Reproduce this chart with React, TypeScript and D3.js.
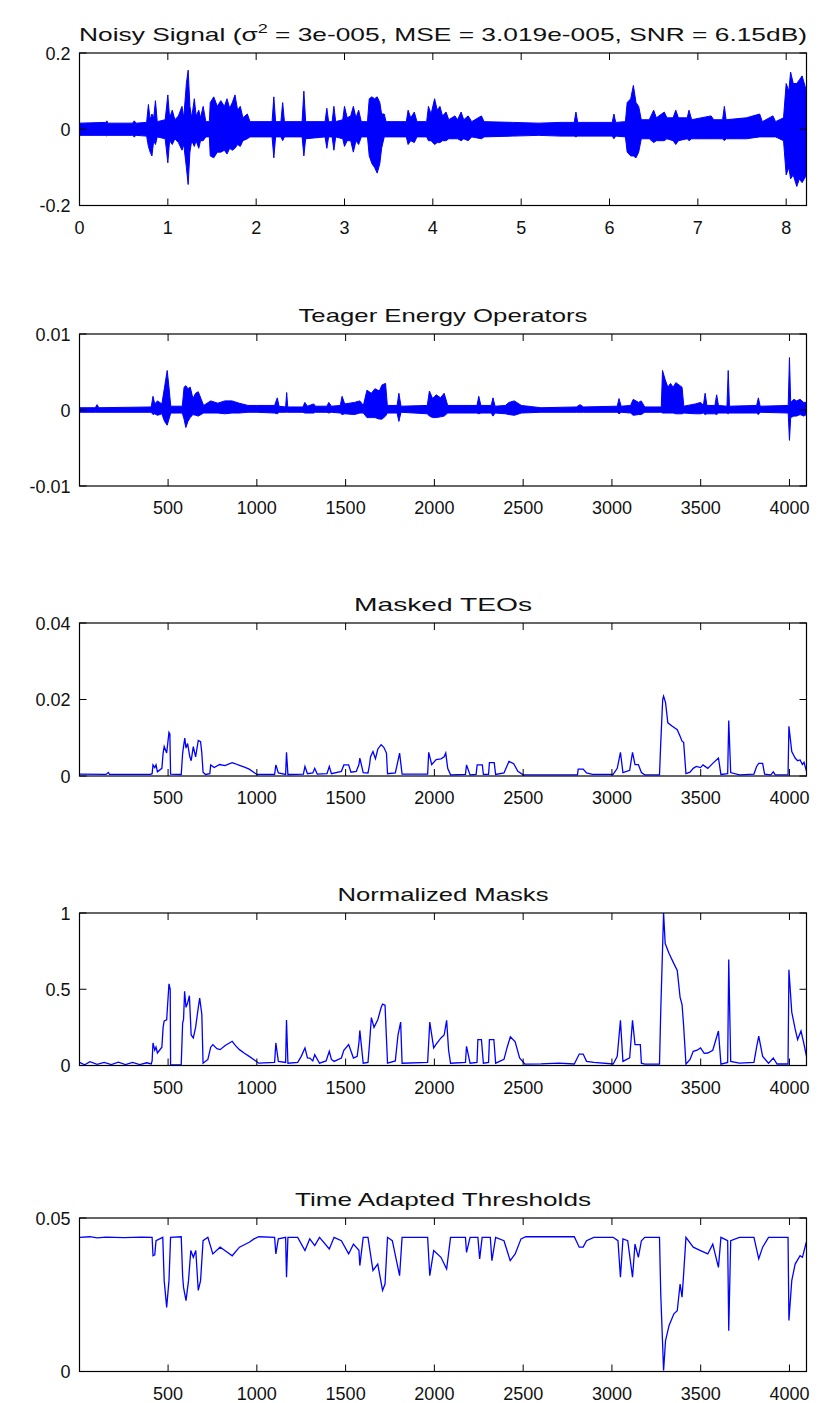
import React from "react";
import * as d3 from "d3";

// ---- noisy signal: envelope (time in s) ----
const sigT = [0, 0.3, 0.31, 0.32, 0.6, 0.62, 0.64, 0.76, 0.78, 0.8, 0.82, 0.84, 0.86, 0.88, 0.97, 1.0, 1.02, 1.05, 1.08, 1.12, 1.16, 1.18, 1.21, 1.23, 1.25, 1.27, 1.3, 1.32, 1.35, 1.37, 1.4, 1.43, 1.47, 1.48, 1.52, 1.56, 1.6, 1.64, 1.67, 1.7, 1.73, 1.76, 1.79, 1.82, 1.85, 1.9, 1.93, 2.18, 2.2, 2.22, 2.28, 2.3, 2.32, 2.52, 2.54, 2.56, 2.78, 2.8, 2.82, 2.86, 2.88, 2.9, 2.98, 3.0, 3.03, 3.07, 3.1, 3.13, 3.16, 3.19, 3.26, 3.28, 3.31, 3.34, 3.37, 3.4, 3.42, 3.45, 3.47, 3.7, 3.72, 3.75, 3.79, 3.82, 3.93, 3.95, 3.98, 4.02, 4.05, 4.08, 4.11, 4.15, 4.18, 4.25, 4.28, 4.32, 4.35, 4.4, 4.44, 4.55, 4.58, 4.9, 5.2, 5.45, 5.6, 5.62, 5.64, 6.03, 6.05, 6.07, 6.18, 6.2, 6.24, 6.27, 6.3, 6.33, 6.36, 6.45, 6.5, 6.53, 6.62, 6.65, 6.72, 6.75, 6.78, 6.88, 6.9, 6.93, 7.15, 7.18, 7.28, 7.3, 7.32, 7.55, 7.7, 7.73, 7.85, 7.88, 7.97, 8.0, 8.03, 8.05, 8.08, 8.12, 8.15, 8.18, 8.23];
const sigHi = [0.016, 0.018, 0.022, 0.016, 0.016, 0.022, 0.016, 0.018, 0.065, 0.025, 0.04, 0.03, 0.075, 0.02, 0.025, 0.09, 0.03, 0.05, 0.025, 0.035, 0.06, 0.03, 0.12, 0.155, 0.06, 0.03, 0.08, 0.035, 0.05, 0.03, 0.06, 0.02, 0.02, 0.07, 0.085, 0.06, 0.075, 0.06, 0.08, 0.055, 0.07, 0.09, 0.05, 0.06, 0.03, 0.04, 0.02, 0.02, 0.085, 0.02, 0.02, 0.07, 0.02, 0.02, 0.1, 0.02, 0.02, 0.055, 0.02, 0.02, 0.06, 0.02, 0.025, 0.06, 0.03, 0.035, 0.06, 0.03, 0.05, 0.02, 0.02, 0.08, 0.085, 0.08, 0.085, 0.07, 0.04, 0.04, 0.02, 0.02, 0.05, 0.03, 0.045, 0.02, 0.02, 0.06, 0.04, 0.08, 0.05, 0.06, 0.035, 0.045, 0.025, 0.035, 0.025, 0.045, 0.025, 0.035, 0.02, 0.035, 0.02, 0.018, 0.016, 0.018, 0.018, 0.045, 0.018, 0.018, 0.04, 0.018, 0.02, 0.07, 0.08, 0.115, 0.07, 0.06, 0.025, 0.025, 0.05, 0.03, 0.045, 0.03, 0.03, 0.05, 0.03, 0.03, 0.05, 0.025, 0.035, 0.025, 0.025, 0.06, 0.025, 0.03, 0.04, 0.02, 0.035, 0.02, 0.03, 0.12, 0.1, 0.15, 0.12, 0.12, 0.13, 0.14, 0.1];
const sigLo = [-0.016, -0.016, -0.018, -0.016, -0.016, -0.02, -0.016, -0.018, -0.045, -0.06, -0.07, -0.03, -0.04, -0.02, -0.025, -0.088, -0.03, -0.04, -0.025, -0.035, -0.055, -0.04, -0.1, -0.145, -0.06, -0.03, -0.045, -0.03, -0.05, -0.03, -0.03, -0.02, -0.02, -0.07, -0.075, -0.06, -0.06, -0.055, -0.065, -0.05, -0.055, -0.05, -0.04, -0.045, -0.03, -0.025, -0.02, -0.02, -0.075, -0.02, -0.02, -0.03, -0.02, -0.02, -0.07, -0.025, -0.02, -0.05, -0.02, -0.02, -0.055, -0.02, -0.025, -0.045, -0.03, -0.03, -0.06, -0.03, -0.04, -0.02, -0.02, -0.07, -0.09, -0.1, -0.115, -0.09, -0.05, -0.02, -0.02, -0.02, -0.04, -0.03, -0.035, -0.02, -0.02, -0.03, -0.03, -0.04, -0.035, -0.035, -0.03, -0.03, -0.025, -0.025, -0.025, -0.03, -0.025, -0.03, -0.02, -0.025, -0.02, -0.018, -0.016, -0.018, -0.018, -0.02, -0.018, -0.018, -0.025, -0.018, -0.02, -0.06, -0.07, -0.07, -0.075, -0.06, -0.025, -0.025, -0.035, -0.03, -0.03, -0.025, -0.03, -0.04, -0.03, -0.025, -0.03, -0.025, -0.025, -0.025, -0.025, -0.03, -0.025, -0.025, -0.02, -0.02, -0.02, -0.02, -0.03, -0.12, -0.1, -0.13, -0.12, -0.15, -0.13, -0.14, -0.12];

// ---- Teager energy: envelope (sample index) ----
const teoN = [1, 90, 100, 110, 405, 415, 425, 440, 465, 480, 495, 505, 515, 580, 590, 600, 612, 625, 640, 655, 670, 685, 700, 740, 780, 820, 860, 900, 950, 1000, 1100, 1115, 1125, 1162, 1168, 1174, 1260, 1270, 1285, 1320, 1330, 1395, 1405, 1420, 1470, 1480, 1495, 1550, 1580, 1600, 1620, 1645, 1665, 1690, 1705, 1725, 1735, 1790, 1800, 1812, 1960, 1972, 1990, 2010, 2035, 2055, 2075, 2240, 2250, 2262, 2320, 2330, 2342, 2400, 2420, 2450, 2490, 2600, 2800, 2820, 2840, 3030, 3040, 3052, 3105, 3120, 3150, 3165, 3185, 3278, 3285, 3300, 3315, 3330, 3345, 3360, 3395, 3405, 3470, 3500, 3515, 3525, 3535, 3580, 3590, 3600, 3648, 3655, 3662, 3815, 3825, 3835, 3993, 4000, 4007, 4025, 4040, 4060, 4080, 4096];
const teoHi = [0.0003, 0.0003, 0.0007, 0.0003, 0.0004, 0.0018, 0.0008, 0.0012, 0.0008, 0.003, 0.0052, 0.003, 0.0005, 0.0005, 0.003, 0.0032, 0.0028, 0.003, 0.0015, 0.0022, 0.0024, 0.0015, 0.0006, 0.0012, 0.0009, 0.0012, 0.0012, 0.0009, 0.0006, 0.0006, 0.0006, 0.0016, 0.0005, 0.0004, 0.0023, 0.0004, 0.0004, 0.001, 0.0005, 0.0008, 0.0005, 0.0005, 0.001, 0.0005, 0.0006, 0.0018, 0.0008, 0.001, 0.0012, 0.0006, 0.0026, 0.0022, 0.0028, 0.0025, 0.0033, 0.0035, 0.0006, 0.0006, 0.0022, 0.0005, 0.0006, 0.0025, 0.0015, 0.002, 0.0016, 0.0022, 0.0006, 0.0006, 0.0018, 0.0006, 0.0006, 0.0016, 0.0005, 0.0006, 0.001, 0.0012, 0.0006, 0.0003, 0.0004, 0.0007, 0.0004, 0.0005, 0.0015, 0.0005, 0.0006, 0.0014, 0.001, 0.0012, 0.0004, 0.0004, 0.0052, 0.004, 0.003, 0.0035, 0.003, 0.0036, 0.003, 0.0005, 0.0008, 0.001, 0.0006, 0.0022, 0.0006, 0.0006, 0.002, 0.0006, 0.0005, 0.0052, 0.0005, 0.0006, 0.0016, 0.0005, 0.0006, 0.0069, 0.001, 0.0014, 0.0012, 0.0014, 0.001, 0.001];
const teoLo = [-0.0003, -0.0003, -0.0003, -0.0003, -0.0003, -0.0006, -0.0005, -0.0007, -0.0005, -0.0015, -0.002, -0.0012, -0.0004, -0.0004, -0.0012, -0.0023, -0.0015, -0.001, -0.0006, -0.0007, -0.0008, -0.0006, -0.0004, -0.0004, -0.0004, -0.0005, -0.0004, -0.0004, -0.0003, -0.0003, -0.0004, -0.0005, -0.0003, -0.0003, -0.0003, -0.0003, -0.0003, -0.0004, -0.0004, -0.0004, -0.0003, -0.0003, -0.0004, -0.0003, -0.0004, -0.0006, -0.0005, -0.0006, -0.0004, -0.0004, -0.001, -0.001, -0.001, -0.0012, -0.0012, -0.0008, -0.0004, -0.0004, -0.0015, -0.0003, -0.0005, -0.0008, -0.001, -0.001, -0.0009, -0.0008, -0.0004, -0.0004, -0.0005, -0.0004, -0.0004, -0.0008, -0.0004, -0.0005, -0.0006, -0.0007, -0.0004, -0.0003, -0.0003, -0.0003, -0.0003, -0.0003, -0.0005, -0.0003, -0.0004, -0.0007, -0.0006, -0.0006, -0.0003, -0.0003, -0.0004, -0.0004, -0.0004, -0.0004, -0.0004, -0.0005, -0.0005, -0.0004, -0.0005, -0.0005, -0.0004, -0.0006, -0.0005, -0.0005, -0.0006, -0.0004, -0.0004, -0.0005, -0.0004, -0.0004, -0.0006, -0.0003, -0.0004, -0.004, -0.001, -0.0008, -0.0008, -0.0006, -0.0008, -0.0006];

// ---- masked TEOs ----
const maskN = [1, 150, 164, 170, 400, 410, 415, 425, 432, 440, 465, 472, 478, 492, 505, 510, 514, 574, 582, 587, 594, 601, 610, 622, 630, 642, 655, 670, 683, 690, 697, 710, 735, 740, 760, 790, 820, 861, 880, 902, 930, 957, 984, 1000, 1100, 1107, 1121, 1162, 1167, 1175, 1262, 1271, 1285, 1315, 1326, 1340, 1395, 1408, 1420, 1476, 1490, 1517, 1530, 1560, 1575, 1580, 1599, 1626, 1635, 1640, 1654, 1668, 1681, 1700, 1715, 1730, 1736, 1780, 1795, 1804, 1818, 1962, 1968, 1985, 2010, 2037, 2055, 2064, 2075, 2091, 2175, 2181, 2201, 2235, 2241, 2270, 2276, 2305, 2310, 2337, 2345, 2392, 2420, 2447, 2470, 2500, 2806, 2810, 2838, 2857, 2890, 3007, 3030, 3048, 3062, 3100, 3116, 3130, 3149, 3166, 3185, 3268, 3275, 3286, 3291, 3302, 3315, 3340, 3368, 3384, 3395, 3404, 3417, 3440, 3458, 3475, 3499, 3513, 3540, 3568, 3600, 3614, 3652, 3658, 3669, 3718, 3800, 3815, 3827, 3849, 3860, 3895, 3909, 3920, 3992, 3997, 4013, 4032, 4046, 4060, 4073, 4082, 4096];
const maskV = [0.0005, 0.0004, 0.0009, 0.0004, 0.0004, 0.0006, 0.0029, 0.0022, 0.0029, 0.0011, 0.002, 0.006, 0.0077, 0.006, 0.0114, 0.011, 0.0005, 0.0004, 0.006, 0.0077, 0.0099, 0.0073, 0.0085, 0.0051, 0.004, 0.0077, 0.005, 0.0093, 0.009, 0.006, 0.001, 0.0004, 0.0006, 0.0029, 0.0022, 0.003, 0.0027, 0.0035, 0.0032, 0.0028, 0.0023, 0.0018, 0.0009, 0.0004, 0.0004, 0.0029, 0.0008, 0.0004, 0.0062, 0.0004, 0.0005, 0.0025, 0.0006, 0.0008, 0.002, 0.0005, 0.0006, 0.0025, 0.0006, 0.0012, 0.0029, 0.0029, 0.001, 0.0012, 0.003, 0.0047, 0.0009, 0.0008, 0.003, 0.005, 0.0064, 0.0045, 0.007, 0.0082, 0.0075, 0.006, 0.0006, 0.0008, 0.004, 0.006, 0.0005, 0.0005, 0.0062, 0.003, 0.0043, 0.0045, 0.005, 0.006, 0.002, 0.0003, 0.0004, 0.0029, 0.0003, 0.0004, 0.0029, 0.0029, 0.0004, 0.0004, 0.0035, 0.0035, 0.0004, 0.0008, 0.0038, 0.0032, 0.0012, 0.0003, 0.0003, 0.0018, 0.0018, 0.0008, 0.0004, 0.0004, 0.002, 0.0062, 0.0009, 0.0015, 0.0062, 0.003, 0.003, 0.0009, 0.0003, 0.0003, 0.0086, 0.02, 0.0209, 0.0192, 0.0139, 0.013, 0.0121, 0.0104, 0.0091, 0.0088, 0.0006, 0.001, 0.002, 0.0025, 0.0022, 0.0029, 0.002, 0.0033, 0.0047, 0.0004, 0.0006, 0.0145, 0.0009, 0.0003, 0.0005, 0.0025, 0.0033, 0.0033, 0.0005, 0.0003, 0.0011, 0.0003, 0.0003, 0.013, 0.0064, 0.0047, 0.004, 0.0042, 0.003, 0.0036, 0.0012];

// ---- normalized masks ----
const normN = [1, 30, 60, 100, 140, 180, 220, 260, 300, 340, 380, 405, 410, 415, 425, 432, 440, 465, 472, 478, 492, 505, 512, 514, 574, 582, 587, 593, 601, 610, 620, 630, 642, 655, 670, 678, 690, 697, 724, 740, 752, 775, 793, 820, 861, 880, 902, 930, 957, 984, 1011, 1100, 1107, 1121, 1162, 1167, 1175, 1230, 1250, 1271, 1285, 1298, 1315, 1326, 1353, 1390, 1408, 1420, 1435, 1476, 1490, 1517, 1544, 1565, 1575, 1580, 1599, 1626, 1635, 1645, 1660, 1681, 1700, 1708, 1722, 1736, 1780, 1795, 1810, 1818, 1962, 1974, 1996, 2010, 2037, 2055, 2069, 2080, 2091, 2175, 2181, 2201, 2240, 2245, 2265, 2276, 2305, 2310, 2335, 2345, 2392, 2410, 2428, 2455, 2480, 2510, 2600, 2700, 2788, 2816, 2838, 2857, 2898, 3007, 3030, 3048, 3062, 3100, 3116, 3130, 3160, 3166, 3185, 3268, 3275, 3291, 3300, 3322, 3349, 3368, 3384, 3395, 3404, 3417, 3440, 3458, 3480, 3499, 3520, 3540, 3568, 3600, 3614, 3652, 3658, 3669, 3718, 3800, 3815, 3827, 3849, 3882, 3909, 3930, 3992, 3997, 4013, 4032, 4046, 4065, 4080, 4096];
const normV = [0.02, 0.005, 0.025, 0.008, 0.02, 0.006, 0.022, 0.006, 0.02, 0.006, 0.018, 0.01, 0.03, 0.148, 0.1, 0.12, 0.082, 0.12, 0.25, 0.292, 0.3, 0.535, 0.5, 0.004, 0.004, 0.28, 0.3, 0.487, 0.381, 0.41, 0.458, 0.2, 0.181, 0.25, 0.38, 0.442, 0.336, 0.015, 0.04, 0.12, 0.137, 0.11, 0.104, 0.13, 0.159, 0.13, 0.104, 0.08, 0.06, 0.038, 0.015, 0.02, 0.148, 0.027, 0.02, 0.299, 0.015, 0.02, 0.06, 0.115, 0.05, 0.049, 0.03, 0.071, 0.015, 0.03, 0.093, 0.04, 0.027, 0.049, 0.1, 0.137, 0.049, 0.06, 0.15, 0.23, 0.015, 0.02, 0.15, 0.314, 0.25, 0.3, 0.38, 0.403, 0.395, 0.015, 0.03, 0.2, 0.285, 0.015, 0.02, 0.285, 0.115, 0.14, 0.181, 0.2, 0.296, 0.1, 0.015, 0.02, 0.126, 0.015, 0.02, 0.17, 0.17, 0.015, 0.02, 0.17, 0.17, 0.015, 0.04, 0.12, 0.188, 0.155, 0.05, 0.009, 0.01, 0.015, 0.01, 0.075, 0.075, 0.027, 0.02, 0.01, 0.06, 0.296, 0.027, 0.05, 0.296, 0.137, 0.137, 0.015, 0.009, 0.009, 0.358, 1.0, 0.8, 0.735, 0.668, 0.624, 0.447, 0.4, 0.259, 0.009, 0.04, 0.093, 0.1, 0.115, 0.08, 0.082, 0.1, 0.226, 0.009, 0.02, 0.695, 0.027, 0.015, 0.02, 0.12, 0.192, 0.06, 0.015, 0.049, 0.01, 0.01, 0.628, 0.35, 0.24, 0.17, 0.226, 0.15, 0.06];

// ---- time adapted thresholds ----
const thrN = [1, 60, 100, 150, 250, 350, 410, 415, 425, 432, 470, 478, 492, 505, 514, 574, 582, 587, 601, 615, 628, 642, 656, 670, 683, 697, 724, 752, 793, 820, 861, 902, 957, 984, 1011, 1100, 1107, 1121, 1162, 1167, 1175, 1230, 1271, 1298, 1326, 1353, 1408, 1435, 1476, 1517, 1544, 1575, 1580, 1599, 1626, 1654, 1681, 1708, 1722, 1736, 1763, 1804, 1818, 1962, 1974, 1996, 2037, 2069, 2091, 2175, 2181, 2201, 2245, 2255, 2269, 2315, 2324, 2345, 2392, 2427, 2455, 2488, 2515, 2788, 2816, 2838, 2857, 2898, 3007, 3034, 3048, 3062, 3089, 3116, 3130, 3149, 3166, 3185, 3268, 3275, 3291, 3302, 3322, 3349, 3368, 3384, 3395, 3404, 3417, 3458, 3499, 3540, 3568, 3600, 3614, 3652, 3658, 3669, 3718, 3800, 3827, 3849, 3882, 3992, 3997, 4013, 4032, 4060, 4073, 4095];
const thrV = [0.0437, 0.0439, 0.0435, 0.0438, 0.0436, 0.0438, 0.0437, 0.0377, 0.038, 0.0426, 0.0437, 0.0296, 0.0209, 0.0296, 0.0437, 0.0439, 0.031, 0.0274, 0.0231, 0.0296, 0.0394, 0.0372, 0.0394, 0.0264, 0.0296, 0.0426, 0.0437, 0.0383, 0.0405, 0.0394, 0.0377, 0.0405, 0.0421, 0.0432, 0.0439, 0.0437, 0.0383, 0.0432, 0.0437, 0.0307, 0.0437, 0.0437, 0.0394, 0.0432, 0.041, 0.0437, 0.0399, 0.0437, 0.0426, 0.0383, 0.0415, 0.0395, 0.0345, 0.0437, 0.0437, 0.0329, 0.035, 0.0264, 0.0285, 0.0437, 0.0426, 0.0312, 0.0437, 0.0437, 0.0312, 0.0394, 0.0372, 0.0334, 0.0437, 0.0437, 0.0388, 0.0437, 0.0437, 0.0367, 0.0437, 0.0437, 0.0361, 0.0437, 0.0426, 0.0361, 0.0383, 0.0432, 0.0439, 0.0439, 0.0405, 0.0405, 0.0426, 0.0437, 0.0437, 0.0426, 0.0307, 0.0432, 0.0426, 0.0307, 0.0415, 0.0372, 0.0426, 0.0437, 0.0437, 0.0253, 0.0003, 0.0101, 0.015, 0.0188, 0.0198, 0.0285, 0.0242, 0.0318, 0.0437, 0.0405, 0.0394, 0.0383, 0.0415, 0.0339, 0.0437, 0.0426, 0.0133, 0.0426, 0.0437, 0.0437, 0.0367, 0.0405, 0.0437, 0.0437, 0.0166, 0.0296, 0.035, 0.0377, 0.0372, 0.0421];

// ---- axes ticks ----
const timeTicks = [0, 1, 2, 3, 4, 5, 6, 7, 8];
const sampleTicks = [500, 1000, 1500, 2000, 2500, 3000, 3500, 4000];

const W = 829;
const H = 1403;
const LEFT = 79.5;
const RIGHT = 806.5;
const FONT = "'Liberation Sans', Arial, Helvetica, sans-serif";
const BLUE = "#0000ff";

type Panel = {
  title: React.ReactNode;
  titleLen: number;
  top: number;
  bottom: number;
  xDomain: [number, number];
  xTicks: number[];
  yDomain: [number, number];
  yTicks: number[];
  yLabels: string[];
  kind: "area" | "line";
  xs: number[];
  hi: number[];
  lo?: number[];
};

const panels: Panel[] = [
  {
    title: (
      <>
        Noisy Signal (σ<tspan dy={-8} fontSize={13}>2</tspan>
        <tspan dy={8}> = 3e-005, MSE = 3.019e-005, SNR = 6.15dB)</tspan>
      </>
    ),
    titleLen: 728,
    top: 53,
    bottom: 205.5,
    xDomain: [0, 8.23],
    xTicks: timeTicks,
    yDomain: [-0.2, 0.2],
    yTicks: [-0.2, 0, 0.2],
    yLabels: ["-0.2", "0", "0.2"],
    kind: "area",
    xs: sigT,
    hi: sigHi,
    lo: sigLo,
  },
  {
    title: "Teager Energy Operators",
    titleLen: 289,
    top: 334,
    bottom: 486,
    xDomain: [1, 4096],
    xTicks: sampleTicks,
    yDomain: [-0.01, 0.01],
    yTicks: [-0.01, 0, 0.01],
    yLabels: ["-0.01", "0", "0.01"],
    kind: "area",
    xs: teoN,
    hi: teoHi,
    lo: teoLo,
  },
  {
    title: "Masked TEOs",
    titleLen: 178,
    top: 623,
    bottom: 776,
    xDomain: [1, 4096],
    xTicks: sampleTicks,
    yDomain: [0, 0.04],
    yTicks: [0, 0.02, 0.04],
    yLabels: ["0", "0.02", "0.04"],
    kind: "line",
    xs: maskN,
    hi: maskV,
  },
  {
    title: "Normalized Masks",
    titleLen: 211,
    top: 913,
    bottom: 1065.5,
    xDomain: [1, 4096],
    xTicks: sampleTicks,
    yDomain: [0, 1],
    yTicks: [0, 0.5, 1],
    yLabels: ["0", "0.5", "1"],
    kind: "line",
    xs: normN,
    hi: normV,
  },
  {
    title: "Time Adapted Thresholds",
    titleLen: 296,
    top: 1218,
    bottom: 1371.5,
    xDomain: [1, 4096],
    xTicks: sampleTicks,
    yDomain: [0, 0.05],
    yTicks: [0, 0.05],
    yLabels: ["0", "0.05"],
    kind: "line",
    xs: thrN,
    hi: thrV,
  },
];

const TICK = 7;

function PanelView({ p }: { p: Panel }) {
  const x = d3.scaleLinear().domain(p.xDomain).range([LEFT, RIGHT]);
  const y = d3.scaleLinear().domain(p.yDomain).range([p.bottom, p.top]);
  const idx = d3.range(p.xs.length);

  let markPath = "";
  if (p.kind === "area") {
    markPath =
      d3
        .area<number>()
        .x((i) => x(p.xs[i]))
        .y0((i) => y(p.lo![i]))
        .y1((i) => y(p.hi[i]))(idx) || "";
  } else {
    markPath =
      d3
        .line<number>()
        .x((i) => x(p.xs[i]))
        .y((i) => y(p.hi[i]))(idx) || "";
  }

  const clipId = `clip-${p.top}`;
  return (
    <g>
      <defs>
        <clipPath id={clipId}>
          <rect x={LEFT} y={p.top} width={RIGHT - LEFT} height={p.bottom - p.top} />
        </clipPath>
      </defs>
      <text
        x={(LEFT + RIGHT) / 2}
        y={p.top - 12}
        textAnchor="middle"
        fontSize={19}
        textLength={p.titleLen}
        lengthAdjust="spacingAndGlyphs"
        fill="#111"
      >
        {p.title}
      </text>
      <g clipPath={`url(#${clipId})`}>
        {p.kind === "area" ? (
          <path d={markPath} fill={BLUE} stroke={BLUE} strokeWidth={1} strokeLinejoin="miter" />
        ) : (
          <path d={markPath} fill="none" stroke={BLUE} strokeWidth={1.3} />
        )}
      </g>
      <rect
        x={LEFT}
        y={p.top}
        width={RIGHT - LEFT}
        height={p.bottom - p.top}
        fill="none"
        stroke="#000"
        strokeWidth={1.2}
      />
      {p.xTicks.map((t) => (
        <g key={`x${t}`}>
          <line x1={x(t)} x2={x(t)} y1={p.bottom} y2={p.bottom - TICK} stroke="#000" strokeWidth={1} />
          <line x1={x(t)} x2={x(t)} y1={p.top} y2={p.top + TICK} stroke="#000" strokeWidth={1} />
          <text x={x(t)} y={p.bottom + 28} textAnchor="middle" fontSize={18} fill="#111">
            {t}
          </text>
        </g>
      ))}
      {p.yTicks.map((t, i) => (
        <g key={`y${t}`}>
          <line x1={LEFT} x2={LEFT + TICK} y1={y(t)} y2={y(t)} stroke="#000" strokeWidth={1} />
          <line x1={RIGHT} x2={RIGHT - TICK} y1={y(t)} y2={y(t)} stroke="#000" strokeWidth={1} />
          <text x={LEFT - 9} y={y(t) + 6.5} textAnchor="end" fontSize={18} fill="#111">
            {p.yLabels[i]}
          </text>
        </g>
      ))}
    </g>
  );
}

export default function App() {
  return (
    <svg
      width={W}
      height={H}
      viewBox={`0 0 ${W} ${H}`}
      style={{ position: "absolute", left: 0, top: 0, background: "#fff", fontFamily: FONT }}
    >
      <rect x={0} y={0} width={W} height={H} fill="#fff" />
      {panels.map((p) => (
        <PanelView key={p.top} p={p} />
      ))}
    </svg>
  );
}
